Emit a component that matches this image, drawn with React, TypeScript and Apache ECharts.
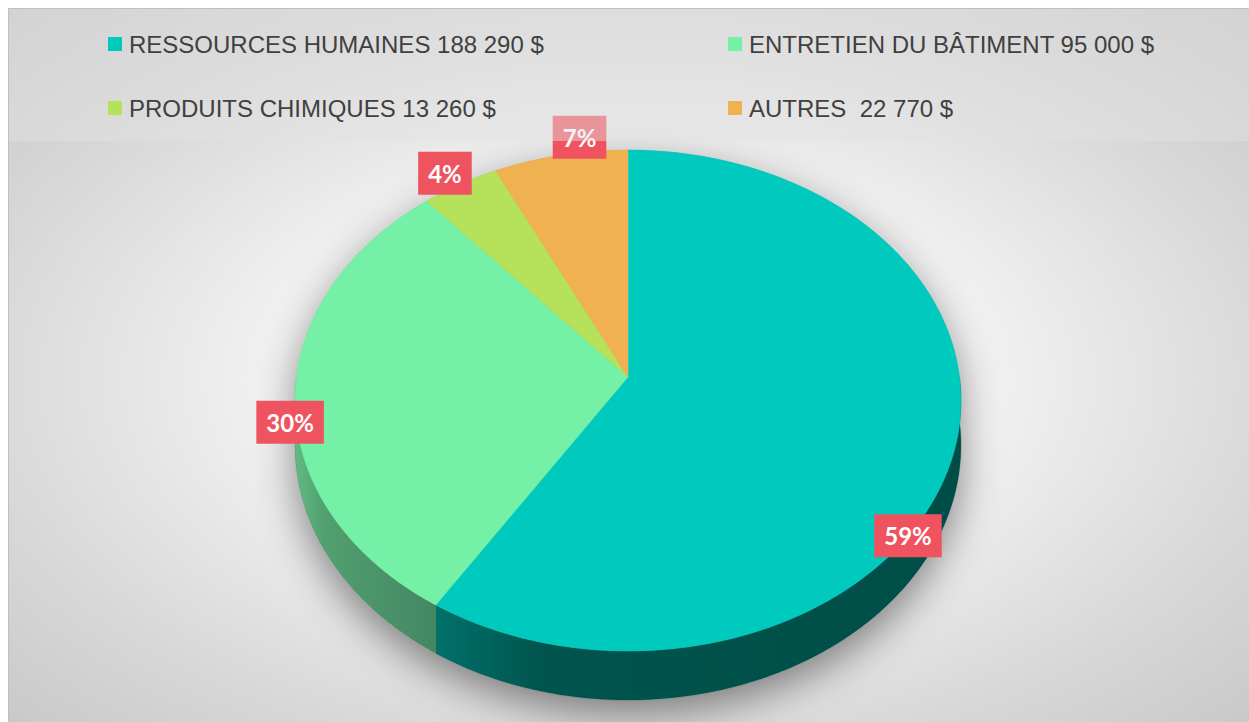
import React, { useEffect, useRef } from 'react';
import * as echarts from 'echarts';

// ---- data ----
const categories = ['RESSOURCES HUMAINES', 'ENTRETIEN DU BÂTIMENT', 'PRODUITS CHIMIQUES', 'AUTRES'];
const amounts = [188290, 95000, 13260, 22770];
const amountLabels = ['188 290 $', '95 000 $', '13 260 $', ' 22 770 $'];

// ---- styles ----
const topColors = ['#00C9BE', '#74F1A6', '#B5E15B', '#F0B251'];
const sideColors = [
  ['#00716A', '#00554E', '#004D47'],
  ['#60BB81', '#52A06F', '#438762'],
  ['#8DB047', '#7E9E3F', '#6F8C37'],
  ['#C08A3E', '#AD7C37', '#9A6E31'],
];
const labelOffsets = [
  [-47, 88],
  [-5, 27],
  [-15, -11],
  [19, -18],
];

// ---- geometry (pixels inside chart div) ----
const CX = 620;
const CY = 369;
const RB = 331.5;
const RA = 248.3;
const PERSP = 0.0938;
const DEPTH = 44.5;

const total = amounts.reduce((s, v) => s + v, 0);
const starts: number[] = [];
{
  let acc = 0;
  amounts.forEach((v) => {
    starts.push(acc);
    acc += v;
  });
}
const legendNames = categories.map((c, i) => `${c} ${amountLabels[i]}`);

function pt(r: number, t: number, d = 0): number[] {
  const s = Math.sin(t);
  const c = Math.cos(t);
  const w = 1 + PERSP * r * c;
  return [CX + (RB * r * s) / w, CY - (RA * r * c) / w + d / w];
}
function arc(t0: number, t1: number, d = 0): number[][] {
  const n = Math.max(2, Math.ceil((t1 - t0) / (Math.PI / 360)));
  const out: number[][] = [];
  for (let k = 0; k <= n; k++) out.push(pt(1, t0 + ((t1 - t0) * k) / n, d));
  return out;
}
const angle = (v: number) => (v / total) * Math.PI * 2;

export default function App() {
  const ref = useRef<HTMLDivElement>(null);
  useEffect(() => {
    if (!ref.current) return;
    const chart = echarts.init(ref.current, undefined, { renderer: 'svg' });

    const sliceSeries = amounts.map((v, i) => ({
      type: 'custom',
      name: legendNames[i],
      coordinateSystem: 'none',
      z: 2,
      silent: true,
      itemStyle: { color: topColors[i] },
      data: [v],
      renderItem: (params: any, api: any) => {
        const val = api.value(0);
        const t0 = angle(starts[i]);
        const t1 = angle(starts[i] + val);
        const children: any[] = [];
        const a = Math.max(t0, Math.PI / 2);
        const b = Math.min(t1, (Math.PI * 3) / 2);
        if (b > a) {
          const pts = arc(a, b, 0).concat(arc(a, b, DEPTH).reverse());
          children.push({
            type: 'polygon',
            shape: { points: pts },
            style: {
              fill: new echarts.graphic.LinearGradient(0, 0, 1, 0, [
                { offset: 0, color: sideColors[i][0] },
                { offset: 0.2, color: sideColors[i][1] },
                { offset: 1, color: sideColors[i][2] },
              ]),
              stroke: sideColors[i][2],
              lineWidth: 0.3,
            },
          });
        }
        const top = [pt(0, 0)].concat(arc(t0, t1, 0));
        children.push({
          type: 'polygon',
          shape: { points: top },
          style: { fill: topColors[i], stroke: topColors[i], lineWidth: 0.5 },
        });
        return { type: 'group', children };
      },
    }));

    const shadowSeries = {
      type: 'custom',
      name: 'shadow',
      coordinateSystem: 'none',
      z: 1,
      silent: true,
      data: [total],
      renderItem: () => {
        const pts = arc(-Math.PI / 2, Math.PI / 2, 0).concat(arc(Math.PI / 2, (Math.PI * 3) / 2, DEPTH));
        return {
          type: 'polygon',
          shape: { points: pts },
          style: {
            fill: '#9a9a9a',
            shadowBlur: 40,
            shadowColor: 'rgba(0,0,0,0.45)',
            shadowOffsetY: 14,
          },
        };
      },
    };

    const labelSeries = {
      type: 'custom',
      name: 'labels',
      coordinateSystem: 'none',
      z: 5,
      silent: true,
      data: amounts,
      renderItem: (params: any, api: any) => {
        const i = params.dataIndex;
        const val = api.value(0);
        const mid = angle(starts[i] + val / 2);
        const p = pt(1, mid, 0);
        const pct = Math.round((val / total) * 100) + '%';
        return {
          type: 'text',
          x: p[0] + labelOffsets[i][0],
          y: p[1] + labelOffsets[i][1],
          style: {
            text: pct,
            fill: '#ffffff',
            fontSize: 24,
            fontWeight: 'bold',
            fontFamily: 'Lato, "Open Sans", sans-serif',
            align: 'center',
            verticalAlign: 'middle',
            backgroundColor: '#EF5360',
            padding: [10, 10, 9, 10],
            boxShadowBlur: 6,
            boxShadowColor: 'rgba(0,0,0,0.35)',
            boxShadowOffsetX: 3,
            boxShadowOffsetY: 3,
          },
        };
      },
    };

    const legendCommon = {
      orient: 'vertical',
      icon: 'rect',
      itemWidth: 14,
      itemHeight: 14,
      itemGap: 40,
      z: 200,
      selectedMode: false,
      textStyle: {
        color: '#404040',
        fontSize: 24,
        lineHeight: 24,
        padding: [0, 0, 0, 2],
        fontFamily: '"Liberation Sans Narrow", "Arial Narrow", sans-serif',
      },
    };

    chart.setOption({
      animation: false,
      legend: [
        { ...legendCommon, left: 95, top: 19, data: [legendNames[0], legendNames[2]] },
        { ...legendCommon, left: 715, top: 19, data: [legendNames[1], legendNames[3]] },
      ],
      graphic: [
        {
          type: 'rect',
          z: -10,
          silent: true,
          shape: { x: 0, y: 0, width: 1241, height: 714 },
          style: {
            fill: new echarts.graphic.RadialGradient(0.5, 0.52, 0.75, [
              { offset: 0, color: '#ffffff' },
              { offset: 0.35, color: '#f4f4f4' },
              { offset: 0.7, color: '#d8d8d8' },
              { offset: 1, color: '#c4c4c4' },
            ]),
          },
        },
        {
          type: 'rect',
          z: 100,
          silent: true,
          shape: { x: 0, y: 0, width: 1241, height: 133 },
          style: { fill: 'rgba(227,227,227,0.45)' },
        },
        {
          type: 'rect',
          z: 300,
          silent: true,
          shape: { x: 0.5, y: 0.5, width: 1300, height: 800 },
          style: { fill: 'none', stroke: '#bfbfbf', lineWidth: 1 },
        },
      ],
      series: [shadowSeries, ...sliceSeries, labelSeries],
    });
    return () => chart.dispose();
  }, []);
  return (
    <div
      ref={ref}
      style={{ position: 'absolute', left: 8, top: 8, width: 1241, height: 714 }}
    />
  );
}
